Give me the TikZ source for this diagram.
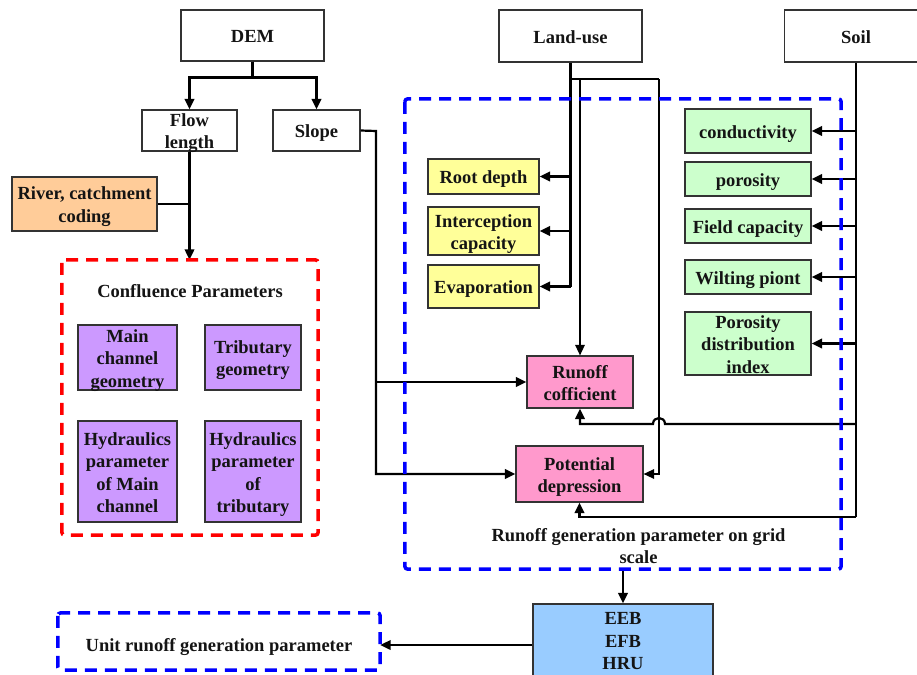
\documentclass[tikz,border=0pt]{standalone}
\usepackage{fontspec}
\setmainfont{Liberation Serif}
\usetikzlibrary{arrows.meta}
\definecolor{boxline}{HTML}{333333}
\definecolor{fillorange}{HTML}{FFCC99}
\definecolor{fillpurple}{HTML}{CC99FF}
\definecolor{fillyellow}{HTML}{FFFF99}
\definecolor{fillgreen}{HTML}{CCFFCC}
\definecolor{fillpink}{HTML}{FF99CC}
\definecolor{fillblue}{HTML}{99CCFF}
\definecolor{framered}{HTML}{FF0000}
\definecolor{frameblue}{HTML}{0000FF}
% struts that fix the height of the first line and the depth of the last line
\newcommand\topstrut[1]{\rule[-4pt]{0pt}{#1}}
\newcommand\botstrut{\rule[-4pt]{0pt}{20.5pt}}
\newcommand\fl{\rule{0pt}{18.5pt}}
\begin{document}
\begin{tikzpicture}[x=1pt,y=-1pt,
  every node/.style={font=\fontsize{18.5}{22.5}\selectfont\bfseries, inner sep=0pt, align=center, text=black!92,
    execute at begin node=\topstrut{22.5pt}, execute at end node=\botstrut},
  % boxes keep their set size; text may run slightly past the border
  box/.style={draw=boxline, line width=1.2pt, rectangle, inner ysep=-10pt},
  link/.style={draw=black, line width=2.2pt},
  thinlink/.style={draw=black, line width=1.4pt},
  soillink/.style={draw=black, line width=2.7pt},
  arr/.style={-{Triangle[length=10.5pt,width=9.5pt]}},
  redframe/.style={draw=framered, line width=3.5pt, dash pattern=on 12pt off 8pt, rounded corners=3pt, rectangle},
  blueframe/.style={draw=frameblue, line width=3.5pt, dash pattern=on 12pt off 8pt, rounded corners=3pt, rectangle}
]
\useasboundingbox (0,0) rectangle (917,674);
\clip (0,0) rectangle (917,674);

% ---- sources ----
\node[box, minimum width=143pt, minimum height=51pt] (dem) at (252.5,35.5) {DEM};
\node[box, minimum width=143pt, minimum height=52pt] (landuse) at (570.5,36) {Land-use};
\node[box, minimum width=143pt, minimum height=52pt] (soil) at (856,36) {Soil};

% ---- terrain derived ----
\node[box, minimum width=95pt, minimum height=41pt] (flow) at (189.5,130.5) {\fl Flow\\length};
\node[box, minimum width=87pt, minimum height=41pt] (slope) at (316.5,130.5) {Slope};
\node[box, fill=fillorange, minimum width=145pt, minimum height=54pt] (river) at (84.5,204) {\fl River, catchment\\coding};

% ---- confluence parameters ----
\node[minimum width=256pt, minimum height=275pt] (conf) at (190,397.5) {};
\node (conftitle) at (190,290) {Confluence Parameters};
\node[box, fill=fillpurple, minimum width=99pt, minimum height=65pt] (mainGeo) at (127.5,357.5) {\fl Main\\channel\\geometry};
\node[box, fill=fillpurple, minimum width=96pt, minimum height=65pt] (tribGeo) at (253,357.5) {\fl Tributary\\geometry};
\node[box, fill=fillpurple, minimum width=99pt, minimum height=101pt] (mainHyd) at (127.5,471.5) {\fl Hydraulics\\parameter\\of Main\\channel};
\node[box, fill=fillpurple, minimum width=96pt, minimum height=101pt] (tribHyd) at (253,471.5) {\fl Hydraulics\\parameter\\of\\tributary};

% ---- runoff generation parameters ----
\node[minimum width=436pt, minimum height=470pt] (grid) at (623,334) {};
\node[box, fill=fillyellow, minimum width=111pt, minimum height=35pt] (root) at (483.5,176.5) {Root depth};
\node[box, fill=fillyellow, minimum width=111pt, minimum height=48pt] (intercept) at (483.5,231) {\fl Interception\\capacity};
\node[box, fill=fillyellow, minimum width=111pt, minimum height=43pt] (evap) at (483.5,286.5) {Evaporation};
\node[box, fill=fillgreen, minimum width=126pt, minimum height=44pt] (cond) at (748,131) {conductivity};
\node[box, fill=fillgreen, minimum width=126pt, minimum height=34pt] (poro) at (748,179) {porosity};
\node[box, fill=fillgreen, minimum width=126pt, minimum height=34pt] (field) at (748,226) {Field capacity};
\node[box, fill=fillgreen, minimum width=126pt, minimum height=34pt] (wilt) at (748,277) {Wilting piont};
\node[box, fill=fillgreen, minimum width=126pt, minimum height=63pt] (pdi) at (748,343.5) {\fl Porosity\\distribution\\index};
\node[box, fill=fillpink, minimum width=106pt, minimum height=52pt] (runoff) at (580,382) {\fl Runoff\\cofficient};
\node[box, fill=fillpink, minimum width=127pt, minimum height=56pt] (depress) at (579.5,474) {\fl Potential\\depression};
\node (gridtitle) at (638.5,545) {\fl Runoff generation parameter on grid\\scale};

% ---- unit level ----
\node[box, fill=fillblue, minimum width=180pt, minimum height=80pt] (unit) at (623,644) {};
\node (unittext) at (623,640) {\fontsize{18.5}{24}\selectfont\fl EEB\\EFB\\HRU};
\node[minimum width=322pt, minimum height=57pt, execute at begin node=\topstrut{28.5pt}] (unitpar) at (219,641.5) {Unit runoff generation parameter};

% ---- terrain connectors ----
\draw[link,arr] (dem.south) -- ++(0,16) -| (flow.north);
\draw[link,arr] (dem.south) -- ++(0,16) -| (slope.north);
\draw[link,arr] (flow.south) -- (flow.south |- conf.north);
\draw[link] (river.east) -- (flow.south |- river.east);
\coordinate (slopeturn) at (376,131);
\draw[link,arr] (slope.east) -- (slopeturn) |- (depress.west);
\draw[link,arr] (slopeturn |- runoff.west) -- (runoff.west);

% ---- land-use connectors ----
\coordinate (lustem) at (570,79);
\draw[link] (landuse.south) -- (landuse.south |- evap.east);
\draw[link,arr] (landuse.south |- root.east) -- (root.east);
\draw[link,arr] (landuse.south |- intercept.east) -- (intercept.east);
\draw[link,arr] (landuse.south |- evap.east) -- (evap.east);
\coordinate (lubranch) at (659,79);
\draw[thinlink] (lustem) -- (lubranch);
\draw[thinlink,arr] (lubranch) |- (depress.east);
\draw[thinlink,arr] (lustem -| runoff.north) -- (runoff.north);

% ---- soil connectors ----
\coordinate (soilend) at (856,517);
\draw[soillink] (soil.south) -- (soilend);
\foreach \t in {cond,poro,field,wilt,pdi}
  \draw[link,arr] (soil.south |- \t.east) -- (\t.east);
\coordinate (soilrunoff) at (856,424);
\draw[link,arr] (soilrunoff) -- (665,424) .. controls (665,416) and (653,416) .. (653,424) -| (runoff.south);
\draw[link,arr] (soilend) -| (depress.south);

% ---- output connectors ----
\draw[link,arr] (grid.south) -- (unit.north);
\draw[link,arr] (unit.west |- unitpar.east) ++(0,3.5) -- ([yshift=-3.5pt]unitpar.east);

% ---- dashed frames ----
\draw[redframe] (conf.north west) rectangle (conf.south east);
\draw[blueframe] (grid.north west) rectangle (grid.south east);
\draw[blueframe] (unitpar.north west) rectangle (unitpar.south east);
\end{tikzpicture}
\end{document}
